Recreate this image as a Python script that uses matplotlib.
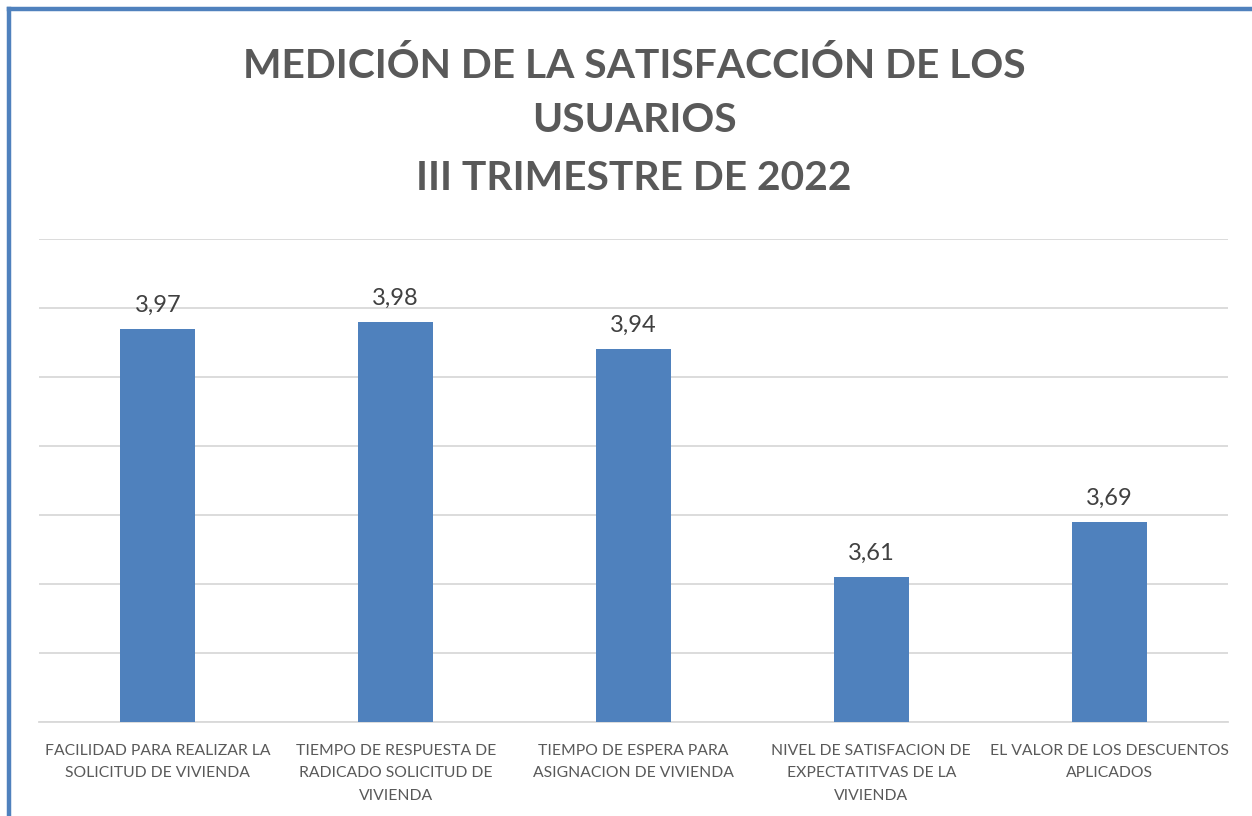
import matplotlib
matplotlib.use("Agg")
import matplotlib.pyplot as plt
from matplotlib.lines import Line2D

plt.rcParams['font.family'] = ['Lato', 'DejaVu Sans']

categories = [
    "FACILIDAD PARA REALIZAR LA\nSOLICITUD DE VIVIENDA",
    "TIEMPO DE RESPUESTA DE\nRADICADO SOLICITUD DE\nVIVIENDA",
    "TIEMPO DE ESPERA PARA\nASIGNACION DE VIVIENDA",
    "NIVEL DE SATISFACION DE\nEXPECTATITVAS DE LA\nVIVIENDA",
    "EL VALOR DE LOS DESCUENTOS\nAPLICADOS",
]
values = [3.97, 3.98, 3.94, 3.61, 3.69]
title_lines = ["MEDICIÓN DE LA SATISFACCIÓN DE LOS", "USUARIOS", "III TRIMESTRE DE 2022"]

W, H = 1252, 816
fig = plt.figure(figsize=(W / 100, H / 100), dpi=100)
ax = fig.add_axes([39 / W, 1 - 722 / H, (1228 - 39) / W, (722 - 239) / H])

x = list(range(len(values)))
bars = ax.bar(x, values, width=0.315, color="#4F81BD", zorder=3)
ax.set_ylim(3.4, 4.1)
ax.set_xlim(-0.5, len(values) - 0.5)
ax.set_yticks([3.4 + 0.1 * i for i in range(8)])
ax.yaxis.grid(True, color="#D9D9D9", linewidth=1.3, zorder=0)
ax.tick_params(axis='y', left=False, labelleft=False)
ax.tick_params(axis='x', length=0, pad=15.5)
for s in ["top", "right", "left"]:
    ax.spines[s].set_visible(False)
ax.spines["bottom"].set_color("#D9D9D9")
ax.spines["bottom"].set_linewidth(1.3)
ax.set_xticks(x)
ax.set_xticklabels(categories, fontsize=11.3, color="#595959", linespacing=1.78)

for b, v in zip(bars, values):
    ax.annotate(f"{v:.2f}".replace(".", ","), (b.get_x() + b.get_width() / 2, v),
                xytext=(0, 9.5), textcoords="offset points", ha="center", va="bottom",
                fontsize=17, color="#404040")

ys = [66, 121, 179]
for t, y in zip(title_lines, ys):
    fig.text(634 / W, 1 - y / H, t, ha="center", va="center", fontsize=29.3,
             fontweight="bold", color="#595959")

# chart border (left and top edges visible)
fig.add_artist(Line2D([9 / W, 9 / W], [0, 1 - 9 / H], transform=fig.transFigure,
                      color="#4F81BD", linewidth=3.2))
fig.add_artist(Line2D([9 / W, 1], [1 - 9 / H, 1 - 9 / H], transform=fig.transFigure,
                      color="#4F81BD", linewidth=3.2))

fig.savefig("out.png", dpi=100)
